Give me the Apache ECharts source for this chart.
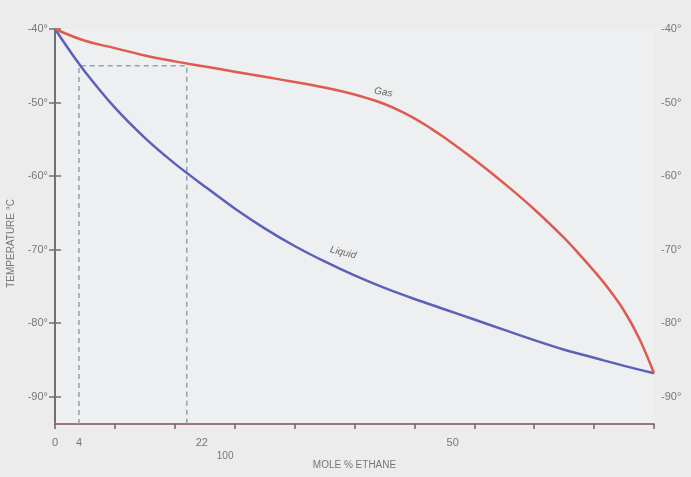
<!DOCTYPE html>
<html>
<head>
<meta charset="utf-8">
<script src="https://cdn.jsdelivr.net/npm/echarts@6/dist/echarts.min.js"></script>
<style>html,body{margin:0;padding:0;background:#ececec;}#c{width:691px;height:477px;}</style>
</head>
<body>
<div id="c"></div>
<script>
// Gas (dew-point) curve
const gasX = [0, 5, 10, 15, 20, 25, 30, 35, 40, 45, 47.5, 50, 52.5, 55, 57.5, 60, 62.5, 65, 70, 75, 80, 85, 87.5, 90, 92.5, 95, 97.5, 100];
const gasT = [-40, -41.6, -42.6, -43.6, -44.4, -45.1, -45.8, -46.5, -47.2, -47.95, -48.4, -48.9, -49.5, -50.2, -51.1, -52.15, -53.4, -54.75, -57.75, -61.0, -64.5, -68.4, -70.6, -72.9, -75.4, -78.3, -82.0, -86.8];
// Liquid (bubble-point) curve
const liqX = [0, 2.5, 5, 10, 15, 20, 25, 30, 35, 40, 45, 50, 55, 60, 65, 70, 75, 80, 85, 90, 95, 100];
const liqT = [-40, -43.0, -45.8, -50.7, -54.8, -58.3, -61.4, -64.4, -67.1, -69.5, -71.6, -73.5, -75.2, -76.7, -78.1, -79.5, -80.9, -82.3, -83.6, -84.7, -85.8, -86.8];
// Dashed construction lines
const dashX = [4, 4, 22, 22];
const dashT = [-93.7, -45, -45, -93.7];
// Tick labels
const yTicks = [-90, -80, -70, -60, -50, -40];
const xTicks = [0, 10, 20, 30, 40, 50, 60, 70, 80, 90, 100];
const xLabelVals = [0, 4, 24.5, 66.4];
const xLabelText = ['0', '4', '22', '50'];
const xLabel2Vals = [28.4];
const xLabel2Text = ['100'];
const curveLabels = [
  {name: 'Gas', x: 54.8, t: -48.6},
  {name: 'Liquid', x: 48.1, t: -70.4}
];
const yTitle = 'TEMPERATURE °C';

const pairs = (xs, ys) => xs.map((x, i) => [x, ys[i]]);
const txt = '#777';
const font = 'Liberation Sans, Noto Sans, sans-serif';

const yAxisBase = (pos) => ({
  type: 'value', position: pos, min: -93.7, max: -40,
  axisLine: {show: true, lineStyle: {color: '#707070', width: 2}},
  axisTick: {show: true, length: 6, customValues: yTicks, lineStyle: {color: '#707070', width: 1.5}},
  axisLabel: {show: true, customValues: yTicks, formatter: v => v + '°', color: txt, fontSize: 11, fontFamily: font, margin: 7},
  splitLine: {show: false}
});

const chart = echarts.init(document.getElementById('c'));
chart.setOption({
  backgroundColor: '#ececec',
  animation: false,
  grid: {left: 55, right: 37, top: 29, bottom: 53, show: true, backgroundColor: '#eeeff1', borderWidth: 0},
  graphic: [{
    type: 'text', left: 6, top: 199,
    rotation: Math.PI / 2,
    style: {text: yTitle, fill: txt, fontSize: 10, fontFamily: font}
  }],
  xAxis: [{
    type: 'value', min: 0, max: 100, position: 'bottom',
    name: 'MOLE % ETHANE', nameLocation: 'middle', nameGap: 36,
    nameTextStyle: {color: txt, fontSize: 10, fontFamily: font},
    axisLine: {show: true, onZero: false, lineStyle: {color: '#a07486', width: 2}},
    axisTick: {show: true, length: 5, customValues: xTicks, lineStyle: {color: '#666', width: 1.5}},
    axisLabel: {customValues: xLabelVals, formatter: v => xLabelText[xLabelVals.indexOf(v)] || '', color: txt, fontSize: 11, fontFamily: font, margin: 13},
    splitLine: {show: false}
  }, {
    type: 'value', min: 0, max: 100, position: 'bottom', offset: 14,
    axisLine: {show: false}, axisTick: {show: false},
    axisLabel: {customValues: xLabel2Vals, formatter: v => xLabel2Text[xLabel2Vals.indexOf(v)] || '', color: txt, fontSize: 10, fontFamily: font, margin: 13},
    splitLine: {show: false}
  }],
  yAxis: [yAxisBase('left'), yAxisBase('right')],
  series: [{
    type: 'line', name: 'Dashed', data: pairs(dashX, dashT), symbol: 'none',
    lineStyle: {color: '#8ea6a8', width: 1.5, type: [5, 4]}, z: 1
  }, {
    type: 'line', name: 'Gas', data: pairs(gasX, gasT), symbol: 'none', smooth: 0.4,
    lineStyle: {color: '#df5a4f', width: 2.5}, z: 3,
    markPoint: {
      symbol: 'circle', symbolSize: 0,
      label: {show: true, position: 'inside', formatter: p => p.name, color: '#666', fontSize: 10, fontStyle: 'italic', fontFamily: font, rotate: -10},
      data: [{name: curveLabels[0].name, coord: [curveLabels[0].x, curveLabels[0].t]}]
    }
  }, {
    type: 'line', name: 'Liquid', data: pairs(liqX, liqT), symbol: 'none', smooth: 0.3,
    lineStyle: {color: '#5b61b8', width: 2.5}, z: 2,
    markPoint: {
      symbol: 'circle', symbolSize: 0,
      label: {show: true, position: 'inside', formatter: p => p.name, color: '#666', fontSize: 10, fontStyle: 'italic', fontFamily: font, rotate: -14},
      data: [{name: curveLabels[1].name, coord: [curveLabels[1].x, curveLabels[1].t]}]
    }
  }]
});
</script>
</body>
</html>
